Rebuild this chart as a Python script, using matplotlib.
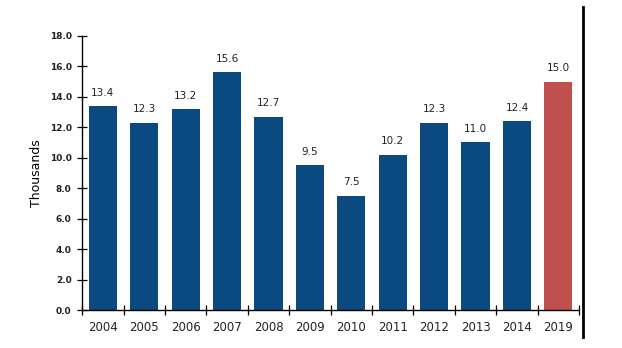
import matplotlib.pyplot as plt
from matplotlib.lines import Line2D

# données du graphique
years = ['2004', '2005', '2006', '2007', '2008', '2009', '2010',
         '2011', '2012', '2013', '2014', '2019']
values = [13.4, 12.3, 13.2, 15.6, 12.7, 9.5, 7.5, 10.2, 12.3, 11.0, 12.4, 15.0]
y_ticks = [0, 2, 4, 6, 8, 10, 12, 14, 16, 18]

colors = ['#0b4a80'] * (len(years) - 1) + ['#c0504d']

fig = plt.figure(figsize=(6.22, 3.48), dpi=100)
ax = fig.add_axes([0.132, 0.109, 0.799, 0.788])

x = range(len(years))
bars = ax.bar(x, values, width=0.68, color=colors)

# étiquettes au-dessus des barres
for b, v in zip(bars, values):
    ax.text(b.get_x() + b.get_width() / 2, v + 0.55, f'{v:.1f}',
            ha='center', va='bottom', fontsize=7.5, color='#222222')

ax.set_xlim(-0.5, len(years) - 0.5)
ax.set_ylim(0, 18)
ax.set_yticks(y_ticks)
ax.set_yticklabels([f'{t:.1f}' for t in y_ticks], fontsize=6.5,
                   fontweight='bold', color='#222222')
ax.set_xticks(list(x))
ax.set_xticklabels(years, fontsize=8.5, color='#222222')
ax.set_xticks([i + 0.5 for i in range(-1, len(years))], minor=True)
ax.tick_params(axis='x', which='major', length=0, pad=8)
ax.tick_params(axis='x', which='minor', direction='inout', length=7, width=0.9)
ax.tick_params(axis='y', direction='inout', length=7, width=0.9, pad=4)
ax.set_ylabel('Thousands', fontsize=9)
ax.yaxis.set_label_coords(-0.078, 0.5)

for s in ['top', 'right']:
    ax.spines[s].set_visible(False)
for s in ['left', 'bottom']:
    ax.spines[s].set_linewidth(1.0)

# trait vertical à droite
fig.add_artist(Line2D([0.9365, 0.9365], [0.032, 0.98], color='black',
                      linewidth=2, transform=fig.transFigure))

plt.savefig('out.png', dpi=100)
